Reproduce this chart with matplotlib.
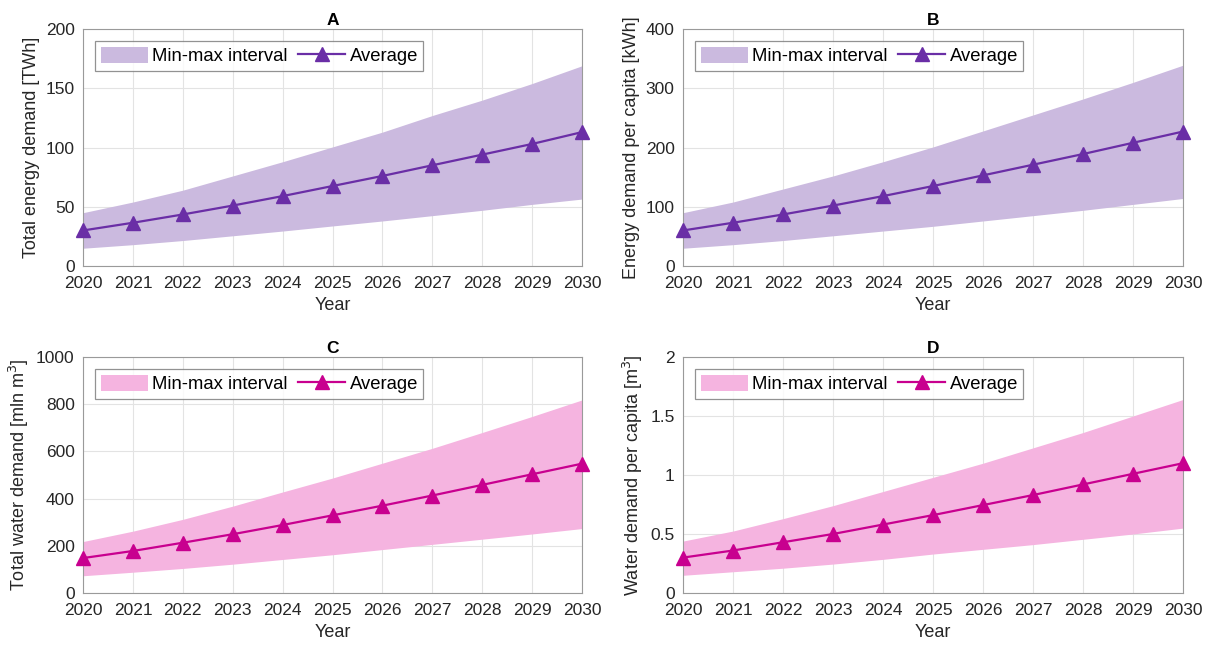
import numpy as np
import matplotlib.pyplot as plt

plt.rcParams['font.family'] = ['Liberation Sans', 'DejaVu Sans']

years = np.arange(2020, 2031)

# A - total energy demand [TWh]
energy_avg = [30, 36.5, 43.5, 51, 59, 67.5, 76, 85, 94, 103, 113]
energy_max = [45, 54, 64, 76, 88, 100.5, 113, 127, 140, 154, 169]
energy_min = [15, 18, 21.5, 25.5, 29.5, 33.8, 38, 42.5, 47, 52, 56.5]

# B - energy demand per capita [kWh]
energy_pc_avg = [60, 73, 87, 102, 118, 135, 153, 171, 189, 208, 227]
energy_pc_max = [90, 108, 130, 152, 176, 201, 228, 255, 282, 310, 339]
energy_pc_min = [30, 36, 43, 51, 59, 67, 76, 85, 94, 104, 114]

# C - total water demand [mln m3]
water_avg = [148, 178, 213, 249, 288, 329, 370, 413, 458, 503, 548]
water_max = [218, 262, 312, 368, 428, 487, 550, 613, 680, 748, 818]
water_min = [73, 88, 104, 122, 142, 162, 184, 206, 228, 250, 273]

# D - water demand per capita [m3]
water_pc_avg = [0.30, 0.36, 0.43, 0.50, 0.58, 0.66, 0.745, 0.83, 0.92, 1.01, 1.10]
water_pc_max = [0.44, 0.525, 0.63, 0.74, 0.86, 0.98, 1.10, 1.23, 1.36, 1.50, 1.64]
water_pc_min = [0.15, 0.18, 0.21, 0.245, 0.285, 0.33, 0.37, 0.41, 0.455, 0.50, 0.55]

purple_fill, purple_line = '#cbbadf', '#6a2ea6'
pink_fill, pink_line = '#f5b4e0', '#c8008f'

panels = [
    ('A', energy_avg, energy_min, energy_max, 'Total energy demand [TWh]', (0, 200), [0, 50, 100, 150, 200], None, purple_fill, purple_line),
    ('B', energy_pc_avg, energy_pc_min, energy_pc_max, 'Energy demand per capita [kWh]', (0, 400), [0, 100, 200, 300, 400], None, purple_fill, purple_line),
    ('C', water_avg, water_min, water_max, 'Total water demand [mln m$^3$]', (0, 1000), [0, 200, 400, 600, 800, 1000], None, pink_fill, pink_line),
    ('D', water_pc_avg, water_pc_min, water_pc_max, 'Water demand per capita [m$^3$]', (0, 2), [0, 0.5, 1, 1.5, 2], ['0', '0.5', '1', '1.5', '2'], pink_fill, pink_line),
]

# axes boxes in figure fractions
positions = [
    [0.0688, 0.5895, 0.4134, 0.3657],
    [0.5659, 0.5895, 0.4143, 0.3657],
    [0.0688, 0.0849, 0.4134, 0.3642],
    [0.5659, 0.0849, 0.4143, 0.3642],
]

fig = plt.figure(figsize=(12.07, 6.48), dpi=100)

for pos, (title, avg, lo, hi, ylabel, ylim, yticks, yticklabels, fc, lc) in zip(positions, panels):
    ax = fig.add_axes(pos)
    ax.fill_between(years, lo, hi, color=fc, linewidth=0, label='Min-max interval')
    ax.plot(years, avg, color=lc, linewidth=1.6, marker='^', markersize=9.5,
            label='Average', clip_on=False, zorder=5)
    ax.set_xlim(2020, 2030)
    ax.set_ylim(*ylim)
    ax.set_xticks(years)
    ax.set_yticks(yticks)
    if yticklabels:
        ax.set_yticklabels(yticklabels)
    ax.grid(True, color='#e3e3e3', linewidth=0.8)
    ax.set_axisbelow(True)
    for s in ax.spines.values():
        s.set_color('#9a9a9a')
        s.set_linewidth(0.8)
    ax.tick_params(labelsize=12.5, colors='#262626', length=0)
    ax.tick_params(axis='x', pad=7.5)
    ax.tick_params(axis='y', pad=6)
    ax.set_xlabel('Year', fontsize=13, color='#262626', labelpad=4)
    ax.set_ylabel(ylabel, fontsize=13, color='#262626', labelpad=4)
    ax.set_title(title, fontsize=12.5, fontweight='bold', pad=3)
    leg = ax.legend(loc='upper left', ncol=2, fontsize=13.3, frameon=True, fancybox=False,
                    edgecolor='#777777', handlelength=2.55, handleheight=0.97,
                    columnspacing=0.6, handletextpad=0.22, borderpad=0.3,
                    borderaxespad=0, bbox_to_anchor=(0.024, 0.949))
    leg.get_frame().set_linewidth(0.9)

fig.savefig('out.png', dpi=100)
